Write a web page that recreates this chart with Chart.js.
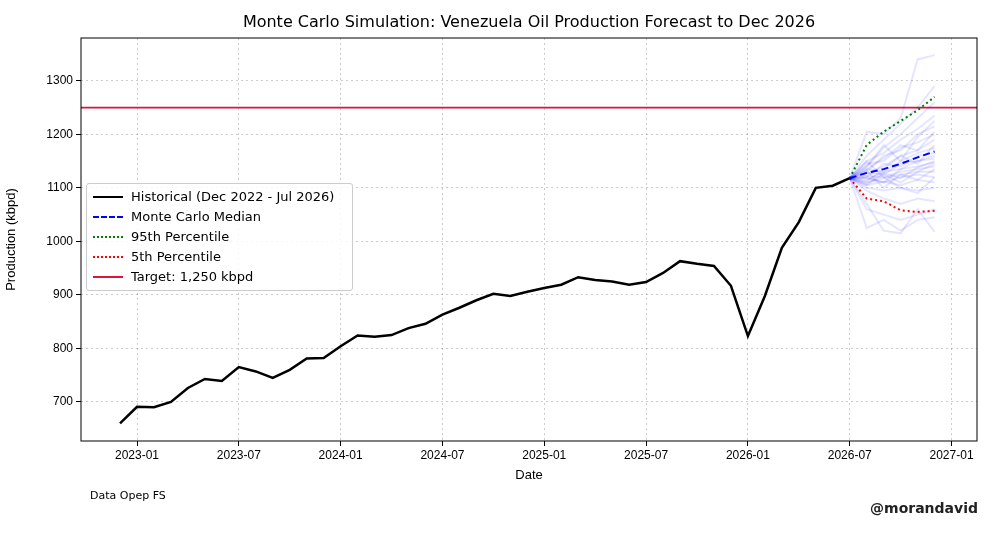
<!DOCTYPE html>
<html><head><meta charset="utf-8">
<script src="https://cdn.jsdelivr.net/npm/chart.js@4"></script>
<style>
body{margin:0;width:1000px;height:541px;position:relative;font-family:"DejaVu Sans",sans-serif;background:#fff;overflow:hidden}
#wrap{position:absolute;left:0;top:0;width:1000px;height:541px}
#title{position:absolute;top:12px;left:81px;width:896px;text-align:center;font-size:16px;color:#000}
#legend{position:absolute;left:86px;top:183px;width:253px;border:1px solid #ccc;border-radius:3px;background:rgba(255,255,255,0.85);padding:3px 6px;font-size:13px;line-height:20px}
#legend div{display:flex;align-items:center}
#legend span.l{display:inline-block;width:30px;margin-right:8px}
#src{position:absolute;left:90px;top:489px;font-size:11px}
#sig{position:absolute;right:22px;top:500px;font-size:14px;font-weight:bold;color:#222}
</style></head>
<body>
<div id="wrap"><canvas id="c"></canvas></div>
<div id="title">Monte Carlo Simulation: Venezuela Oil Production Forecast to Dec 2026</div>
<div id="legend">
<div><span class="l" style="border-top:2.5px solid #000"></span>Historical (Dec 2022 - Jul 2026)</div>
<div><span class="l" style="border-top:2px dashed #00f"></span>Monte Carlo Median</div>
<div><span class="l" style="border-top:2px dotted green"></span>95th Percentile</div>
<div><span class="l" style="border-top:2px dotted red"></span>5th Percentile</div>
<div><span class="l" style="border-top:2px solid crimson"></span>Target: 1,250 kbpd</div>
</div>
<div id="src">Data Opep FS</div>
<div id="sig">@morandavid</div>
<script>
// month index 0 = Jan 2023
const histStart = -1;
const historical = [660,691,690,700,726,743,739,765,757,745,760,781,782,804,824,822,825,838,846,863,876,890,902,898,906,913,919,933,928,925,919,924,941,963,958,954,917,823,898,988,1036,1100,1104,1118];
const simStart = 42;
const median = [1118,1128,1135,1145,1157,1168];
const p95 = [1118,1180,1205,1225,1245,1270];
const p5 = [1118,1080,1075,1058,1055,1057];
const target = 1250;
const paths = [
  [1118,1205,1200,1230,1340,1348],
  [1118,1160,1190,1220,1250,1290],
  [1118,1140,1175,1200,1230,1260],
  [1118,1150,1165,1190,1210,1235],
  [1118,1130,1160,1170,1200,1215],
  [1118,1145,1150,1175,1185,1200],
  [1118,1125,1140,1160,1170,1190],
  [1118,1135,1130,1150,1165,1175],
  [1118,1120,1145,1140,1160,1165],
  [1118,1128,1125,1145,1150,1155],
  [1118,1115,1130,1135,1140,1148],
  [1118,1122,1120,1130,1135,1140],
  [1118,1110,1118,1125,1130,1130],
  [1118,1118,1110,1120,1125,1120],
  [1118,1105,1112,1105,1115,1110],
  [1118,1100,1095,1100,1095,1100],
  [1118,1095,1080,1070,1080,1075],
  [1118,1060,1050,1040,1050,1060],
  [1118,1025,1040,1020,1040,1045],
  [1118,1070,1020,1015,1060,1018],
  [1118,1140,1180,1150,1195,1225],
  [1118,1112,1135,1160,1145,1180],
  [1118,1105,1125,1110,1130,1145],
  [1118,1132,1100,1125,1115,1135],
  [1118,1150,1120,1100,1090,1120],
  [1118,1135,1155,1180,1170,1205],
  [1118,1120,1110,1135,1150,1160],
  [1118,1108,1128,1118,1138,1150]
];
const xTicks = [0,6,12,18,24,30,36,42,48];
const xTickLabels = ['2023-01','2023-07','2024-01','2024-07','2025-01','2025-07','2026-01','2026-07','2027-01'];
const yTicks = [700,800,900,1000,1100,1200,1300];

const pts = (arr, start) => arr.map((v, i) => ({x: start + i, y: v}));
const datasets = [];
paths.forEach(p => datasets.push({data: pts(p, simStart), borderColor: 'rgba(0,0,255,0.1)', borderWidth: 2, pointRadius: 0}));
datasets.push({data: pts(historical, histStart), borderColor: '#000', borderWidth: 2.5, pointRadius: 0});
datasets.push({data: pts(median, simStart), borderColor: '#0000ff', borderDash: [7,4], borderWidth: 2, pointRadius: 0});
datasets.push({data: pts(p95, simStart), borderColor: 'green', borderDash: [2,3], borderWidth: 2, pointRadius: 0});
datasets.push({data: pts(p5, simStart), borderColor: 'red', borderDash: [2,3], borderWidth: 2, pointRadius: 0});
datasets.push({data: [{x: -3.4, y: target}, {x: 49.5, y: target}], borderColor: 'crimson', borderWidth: 1.8, pointRadius: 0});

const grid = {color: 'rgba(0,0,0,0.2)', tickColor: '#000', tickLength: 5};
const border = {display: false, dash: [2,3]};
new Chart(document.getElementById('c'), {
  type: 'line',
  data: {datasets},
  options: {
    responsive: true, maintainAspectRatio: false, animation: false,
    layout: {padding: {top: 38, right: 23, left: 0, bottom: 56}},
    plugins: {legend: {display: false}, tooltip: {enabled: false}},
    scales: {
      x: {
        type: 'linear', min: -3.3, max: 49.5,
        afterBuildTicks: s => { s.ticks = xTicks.map(v => ({value: v})); },
        afterFit: s => { s.height = 44; },
        ticks: {color: '#000', font: {size: 12}, maxRotation: 0, autoSkip: false, padding: 2, callback: v => xTickLabels[xTicks.indexOf(v)]},
        grid: grid, border: border,
        title: {display: true, text: 'Date', color: '#000', font: {size: 13}, padding: 2}
      },
      y: {
        min: 627, max: 1380,
        afterBuildTicks: s => { s.ticks = yTicks.map(v => ({value: v})); },
        afterFit: s => { s.width = 81; },
        ticks: {color: '#000', font: {size: 12}, callback: v => String(v)},
        grid: grid, border: border,
        title: {display: true, text: 'Production (kbpd)', color: '#000', font: {size: 13}, padding: {top: 4, bottom: 4}}
      }
    }
  },
  plugins: [{
    id: 'frame',
    afterDraw(ch) {
      const a = ch.chartArea, c = ch.ctx;
      c.save(); c.strokeStyle = '#000'; c.lineWidth = 1;
      c.strokeRect(a.left, a.top, a.right - a.left, a.bottom - a.top);
      c.restore();
    }
  }]
});
</script>
</body></html>
